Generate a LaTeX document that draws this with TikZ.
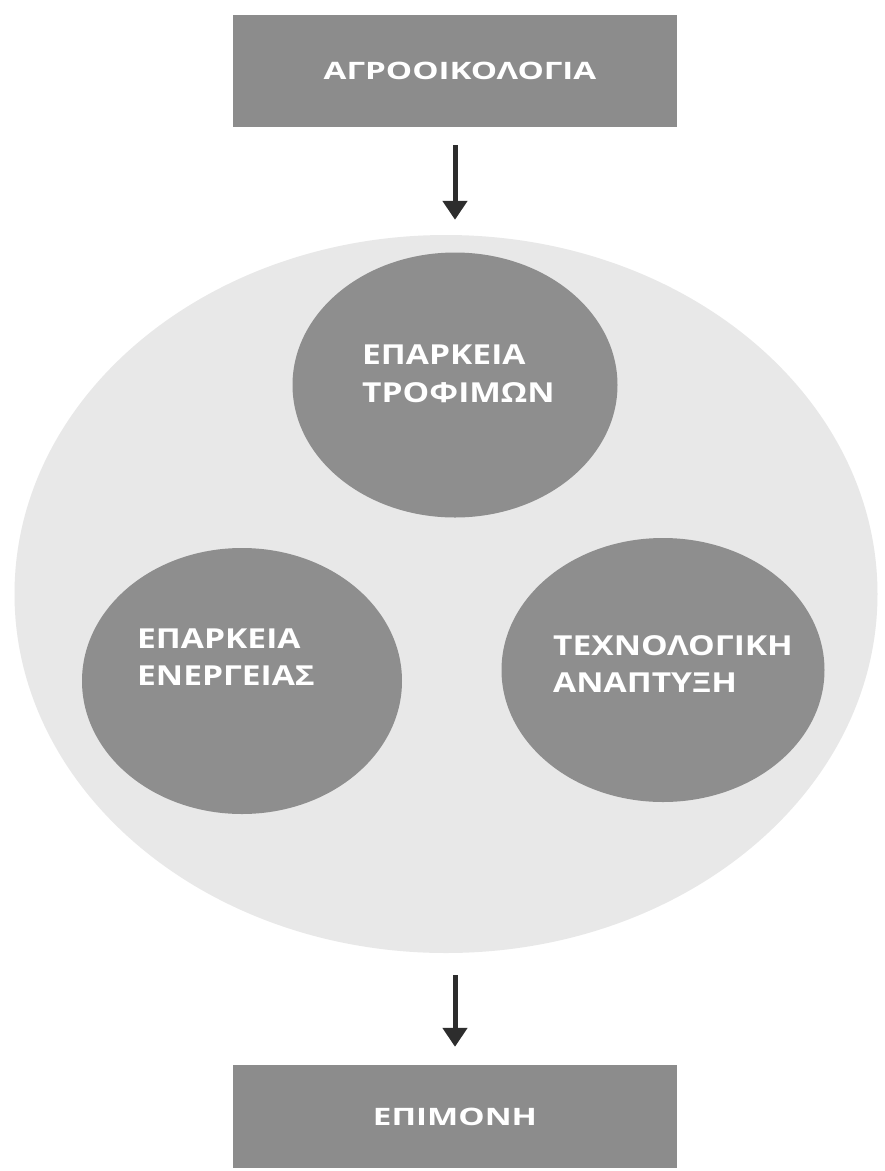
\documentclass[tikz,border=0pt]{standalone}
\usepackage{fontspec}
\usetikzlibrary{shapes.geometric,arrows.meta}
\newfontfamily\lblfont[FakeStretch=1.22]{Open Sans}
\newfontfamily\ttlfont[FakeStretch=1.38]{Open Sans}
\definecolor{boxgray}{RGB}{140,140,140}
\definecolor{circgray}{RGB}{142,142,142}
\definecolor{biggray}{RGB}{232,232,232}
\definecolor{arrowdark}{RGB}{45,45,45}
\tikzset{
  titlebox/.style={rectangle, fill=boxgray, draw=none, minimum width=444pt, inner sep=0pt,
    text=white, font=\ttlfont\bfseries\fontsize{24}{28}\selectfont},
  bubble/.style={ellipse, fill=circgray, draw=none, inner sep=0pt},
  bubbletext/.style={anchor=west, align=left, text=white, inner sep=0pt,
    font=\lblfont\bfseries\fontsize{27.5}{37.5}\selectfont},
  flowarrow/.style={draw=arrowdark, line width=5pt, -{Triangle[width=24pt,length=19pt]}}
}
\begin{document}
\begin{tikzpicture}[x=1pt,y=-1pt]
\useasboundingbox (0,0) rectangle (885,1171);
\fill[white] (0,0) rectangle (885,1171);

\node[titlebox, minimum height=112pt] (agro) at (455,71) {\hspace*{10pt}ΑΓΡΟΟΙΚΟΛΟΓΙΑ};

\node[ellipse, fill=biggray, draw=none, inner sep=0pt, minimum width=863pt, minimum height=718pt] (big) at (446,594) {};

\node[bubble, minimum width=325pt, minimum height=265pt] (food) at (455,385) {};
\node[bubble, minimum width=320pt, minimum height=266pt] (energy) at (242,681) {};
\node[bubble, minimum width=323pt, minimum height=264pt] (tech) at (663,670) {};

\node[bubbletext] (foodtxt) at (362,374) {ΕΠΑΡΚΕΙΑ\\ΤΡΟΦΙΜΩΝ};
\node[bubbletext] (energytxt) at (137,657) {ΕΠΑΡΚΕΙΑ\\ΕΝΕΡΓΕΙΑΣ};
\node[bubbletext] (techtxt) at (553,664) {ΤΕΧΝΟΛΟΓΙΚΗ\\ΑΝΑΠΤΥΞΗ};

\node[titlebox, minimum height=103pt] (persist) at (455,1116.5) {ΕΠΙΜΟΝΗ};

\draw[flowarrow, shorten <=18pt, shorten >=15pt] (agro.south) -- (agro.south |- big.north);
\draw[flowarrow, shorten <=22pt, shorten >=18pt] (persist.north |- big.south) -- (persist.north);
\end{tikzpicture}
\end{document}
